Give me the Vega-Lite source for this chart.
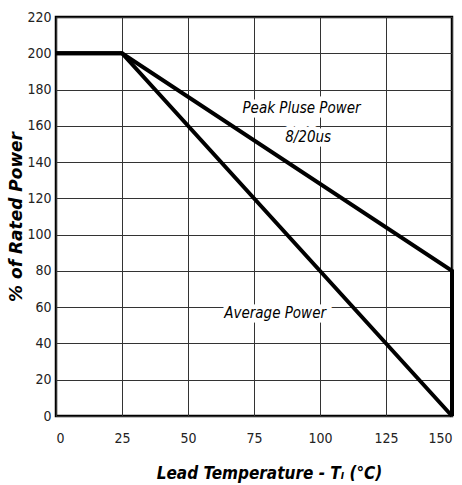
{
  "$schema": "https://vega.github.io/schema/vega-lite/v6.json",
  "width": 396,
  "height": 399,
  "autosize": {"type": "none"},
  "padding": {"left": 56, "top": 17, "right": 10, "bottom": 69},
  "background": "white",
  "config": {
    "view": {"stroke": "black", "strokeWidth": 2.5},
    "font": "'DejaVu Sans Condensed', 'Liberation Sans', sans-serif"
  },
  "datasets": {
    "curves": [
      {"series": "Peak", "ord": 1, "temp": 0, "pct": 200},
      {"series": "Peak", "ord": 2, "temp": 25, "pct": 200},
      {"series": "Peak", "ord": 3, "temp": 150, "pct": 80},
      {"series": "Peak", "ord": 4, "temp": 150, "pct": 0},
      {"series": "Average", "ord": 1, "temp": 0, "pct": 200},
      {"series": "Average", "ord": 2, "temp": 25, "pct": 200},
      {"series": "Average", "ord": 3, "temp": 150, "pct": 0}
    ],
    "labels": [
      {"temp": 93, "pct": 170, "label": "Peak Pluse Power"},
      {"temp": 95.5, "pct": 154, "label": "8/20us"},
      {"temp": 83, "pct": 57, "label": "Average Power"}
    ]
  },
  "encoding": {
    "x": {
      "field": "temp", "type": "quantitative",
      "scale": {"domain": [0, 150], "nice": false},
      "axis": {
        "values": [0, 25, 50, 75, 100, 125, 150],
        "grid": true, "gridColor": "#333333", "gridWidth": 1, "gridOpacity": 1,
        "ticks": false, "domain": false, "labelOverlap": false,
        "labelFontSize": 14, "labelColor": "#222222", "labelPadding": 15,
        "title": "Lead Temperature - Tₗ (°C)",
        "titleFontSize": 17, "titleFontWeight": "bold", "titleFontStyle": "italic",
        "titleColor": "black", "titlePadding": 20, "titleX": 213
      }
    },
    "y": {
      "field": "pct", "type": "quantitative",
      "scale": {"domain": [0, 220], "nice": false},
      "axis": {
        "values": [0, 20, 40, 60, 80, 100, 120, 140, 160, 180, 200, 220],
        "tickCount": 12,
        "grid": true, "gridColor": "#333333", "gridWidth": 1, "gridOpacity": 1,
        "ticks": false, "domain": false, "labelOverlap": false,
        "labelFontSize": 14, "labelColor": "#222222", "labelPadding": 5,
        "title": "% of Rated Power",
        "titleFontSize": 17, "titleFontWeight": "bold", "titleFontStyle": "italic",
        "titleColor": "black", "titlePadding": 1, "titleFont": "DejaVu Sans"
      }
    }
  },
  "layer": [
    {
      "data": {"name": "curves"},
      "mark": {"type": "line", "color": "black", "strokeWidth": 4, "strokeJoin": "miter", "clip": false},
      "encoding": {
        "detail": {"field": "series"},
        "order": {"field": "ord"}
      }
    },
    {
      "data": {"name": "labels"},
      "mark": {"type": "text", "fontSize": 15, "fontStyle": "italic", "stroke": "white", "strokeWidth": 9, "color": "white"},
      "encoding": {
        "text": {"field": "label"}
      }
    },
    {
      "data": {"name": "labels"},
      "mark": {"type": "text", "fontSize": 15, "fontStyle": "italic", "color": "black"},
      "encoding": {
        "text": {"field": "label"}
      }
    }
  ]
}
